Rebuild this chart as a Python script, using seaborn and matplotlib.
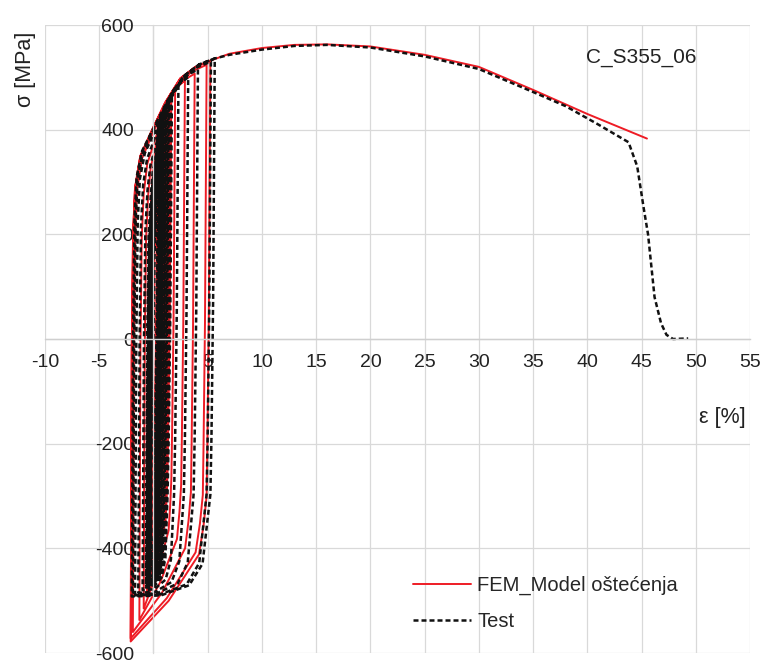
import numpy as np
import pandas as pd
import seaborn as sns
import matplotlib.pyplot as plt

# cyclic part: turning points of every cycle (strain in %, stress in MPa)
test_peak_eps = [0.45, 0.5, 0.55, 0.6, 0.65, 0.7, 0.75, 0.8, 0.85, 0.9, 0.95, 1.0, 1.05, 1.1, 1.15, 1.2,
                 1.3, 1.4, 1.5, 1.6, 1.7, 2.3, 3.2, 4.1, 5.3, 5.65]
test_peak_sig = [400, 405, 410, 414, 418, 422, 425, 428, 431, 433, 436, 438, 440, 442, 444, 446,
                 449, 452, 455, 458, 462, 485, 500, 515, 530, 536]
test_valley_eps = [-0.25, -0.3, -0.3, -0.3, -0.35, -0.35, -0.35, -0.4, -0.4, -0.4, -0.45, -0.45, -0.45, -0.5, -0.5, -0.5,
                   -0.55, -0.55, -0.6, -0.65, -0.7, -1.0, -1.4, -1.7, -1.9, -2.0]
test_valley_sig = [-425, -430, -435, -440, -444, -448, -451, -454, -456, -458, -460, -462, -464, -466, -467, -468,
                   -469, -470, -472, -473, -475, -480, -485, -488, -490, -492]

fem_peak_eps = [0.4, 0.45, 0.5, 0.55, 0.6, 0.65, 0.7, 0.75, 0.8, 0.85, 0.9, 0.95, 1.0, 1.05, 1.1, 1.15,
                1.25, 1.35, 1.45, 1.55, 1.65, 2.0, 2.9, 3.8, 4.9, 5.25]
fem_peak_sig = [405, 410, 414, 418, 422, 426, 429, 432, 435, 437, 440, 442, 444, 446, 448, 450,
                452, 455, 457, 460, 463, 478, 494, 507, 524, 532]
fem_valley_eps = [-0.2, -0.2, -0.25, -0.25, -0.3, -0.3, -0.3, -0.35, -0.35, -0.35, -0.4, -0.4, -0.4, -0.45, -0.45, -0.5,
                  -0.5, -0.55, -0.55, -0.6, -0.6, -0.9, -1.3, -1.9, -2.1, -2.1]
fem_valley_sig = [-440, -445, -450, -455, -459, -463, -466, -469, -472, -474, -476, -478, -480, -482, -484, -486,
                  -488, -489, -490, -491, -492, -515, -537, -560, -572, -578]

# branch shapes (elastic strain offsets, fractions of range)
test_up_de = [0.0, 0.12, 0.25, 0.45]
test_up_ds = [0.0, 0.48, 0.70, 0.78]
test_up_u = [0.07, 0.23, 0.40, 0.60, 0.80, 1.0]
test_up_v = [0.22, 0.43, 0.65, 0.85, 0.95, 1.0]
test_dn_de = [0.0, -0.15, -0.30, -0.40]
test_dn_ds = [0.0, 0.45, 0.70, 0.81]
test_dn_u = [0.10, 0.27, 0.63, 1.0]
test_dn_v = [0.68, 0.89, 0.99, 1.0]

fem_up_de = [0.0, 0.10, 0.22, 0.40]
fem_up_ds = [0.0, 0.50, 0.70, 0.78]
fem_up_u = [0.07, 0.23, 0.40, 0.60, 0.80, 1.0]
fem_up_v = [0.25, 0.46, 0.67, 0.86, 0.95, 1.0]
fem_dn_de = [0.0, -0.15, -0.28, -0.35]
fem_dn_ds = [0.0, 0.45, 0.66, 0.75]
fem_dn_u = [0.04, 0.10, 0.50, 1.0]
fem_dn_v = [0.20, 0.40, 0.72, 1.0]

# monotonic tension to fracture
test_tail_eps = [7, 10, 13, 16, 20, 25, 30, 35, 38, 41, 43.8, 44.6, 45.2, 45.6, 46.2, 46.8, 47.3, 47.9, 49.3]
test_tail_sig = [543, 553, 560, 562, 557, 540, 516, 472, 445, 410, 376, 330, 250, 200, 80, 30, 8, 0, 1]
fem_tail_eps = [7, 10, 13, 16, 20, 25, 30, 35, 40, 45.5]
fem_tail_sig = [545, 556, 562, 563, 559, 543, 520, 476, 430, 383]


def branch(e0, s0, e1, s1, de, ds, u, v):
    pts = [(e0 + a, s0 + b * (s1 - s0)) for a, b in zip(de, ds)]
    ek, sk = pts[-1]
    pts += [(ek + a * (e1 - ek), sk + b * (s1 - sk)) for a, b in zip(u, v)]
    return pts


def build_path(pe, ps, ve, vs, tail_e, tail_s, up, dn):
    pts = [(0.0, 0.0)]
    cur = (0.0, 0.0)
    for i in range(len(pe)):
        pts += branch(cur[0], cur[1], pe[i], ps[i], *up)[1:]
        pts += branch(pe[i], ps[i], ve[i], vs[i], *dn)[1:]
        cur = (ve[i], vs[i])
    pts += branch(cur[0], cur[1], tail_e[0], tail_s[0], *up)[1:]
    pts += list(zip(tail_e[1:], tail_s[1:]))
    return pd.DataFrame(pts, columns=['eps', 'sig'])


df_test = build_path(test_peak_eps, test_peak_sig, test_valley_eps, test_valley_sig,
                     [test_peak_eps[-1]] + test_tail_eps, [test_peak_sig[-1]] + test_tail_sig,
                     (test_up_de, test_up_ds, test_up_u, test_up_v),
                     (test_dn_de, test_dn_ds, test_dn_u, test_dn_v))
df_fem = build_path(fem_peak_eps, fem_peak_sig, fem_valley_eps, fem_valley_sig,
                    [fem_peak_eps[-1]] + fem_tail_eps, [fem_peak_sig[-1]] + fem_tail_sig,
                    (fem_up_de, fem_up_ds, fem_up_u, fem_up_v),
                    (fem_dn_de, fem_dn_ds, fem_dn_u, fem_dn_v))

sns.set_theme(style='whitegrid')
plt.rcParams['font.family'] = ['Liberation Sans', 'DejaVu Sans']
plt.rcParams['axes.unicode_minus'] = False

fig = plt.figure(figsize=(7.65, 6.63), dpi=100)
ax = fig.add_axes([45 / 765, 10 / 663, 705 / 765, 628 / 663])

sns.lineplot(data=df_fem, x='eps', y='sig', sort=False, estimator=None, ax=ax,
             color='#ee1c25', lw=1.4, label='FEM_Model oštećenja')
sns.lineplot(data=df_test, x='eps', y='sig', sort=False, estimator=None, ax=ax,
             color='#111111', lw=1.8, linestyle=(0, (2.0, 1.2)), label='Test')

ax.set_xlim(-10, 55)
ax.set_ylim(-600, 600)
ax.set_xticks(np.arange(-10, 56, 5))
ax.set_xticklabels([str(t) if t != 0 else '' for t in range(-10, 56, 5)])
ax.set_yticks(np.arange(-600, 601, 200))
ax.grid(True, color='#d9d9d9', lw=0.9)
ax.set_facecolor('white')
for s in ['top', 'right']:
    ax.spines[s].set_visible(False)
ax.spines['left'].set_position(('data', 0))
ax.spines['bottom'].set_position(('data', 0))
ax.spines['left'].set_color('#d9d9d9')
ax.spines['bottom'].set_color('#cfcfcf')
ax.spines['left'].set_linewidth(0.9)
ax.spines['bottom'].set_linewidth(1.0)
ax.tick_params(axis='x', length=0, pad=11, labelsize=14, colors='#222222')
ax.tick_params(axis='y', length=0, pad=14, labelsize=14, colors='#222222')
ax.set_xlabel('')
ax.set_ylabel('')

ax.text(45, 537, 'C_S355_06', fontsize=15, ha='center', va='center', color='#222222')
fig.text(25 / 765, 1 - 69 / 663, 'σ [MPa]', rotation=90, fontsize=15.5,
         ha='center', va='center', color='#222222')
fig.text(722 / 765, 1 - 418 / 663, 'ε [%]', fontsize=15.5, ha='center', va='center', color='#222222')

ax.legend(loc='center left', bbox_to_anchor=(0.496, 0.079), frameon=False,
          fontsize=14.5, handlelength=2.9, handletextpad=0.3, labelspacing=0.8)

fig.savefig('out.png', dpi=100)
